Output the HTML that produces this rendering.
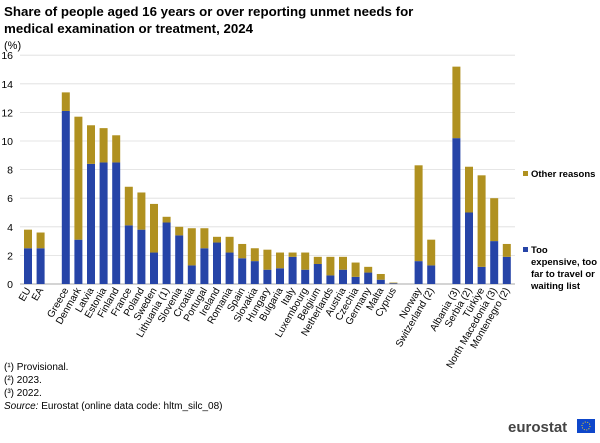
<!DOCTYPE html>
<html><head><meta charset="utf-8"><style>
body{margin:0;background:#fff;font-family:"Liberation Sans",sans-serif;}
</style></head><body>
<svg width="600" height="438" xmlns="http://www.w3.org/2000/svg" font-family="Liberation Sans, sans-serif">
<text x="4" y="16" font-size="13.3" font-weight="bold" fill="#000">Share of people aged 16 years or over reporting unmet needs for</text>
<text x="4" y="33" font-size="13.3" font-weight="bold" fill="#000">medical examination or treatment, 2024</text>
<text x="4" y="49" font-size="11">(%)</text>
<g id="grid"></g><g id="bars"></g><g id="xl"></g>
<g font-size="9.5" font-weight="bold">
<rect x="523" y="171" width="5" height="5" fill="#b09120"/>
<text x="531" y="177">Other reasons</text>
<rect x="523" y="247" width="5" height="5" fill="#2644a7"/>
<text><tspan x="531" y="253">Too</tspan><tspan x="531" y="265">expensive, too</tspan><tspan x="531" y="277">far to travel or</tspan><tspan x="531" y="289">waiting list</tspan></text>
</g>
<g font-size="10" fill="#000">
<text x="4" y="370">(¹) Provisional.</text>
<text x="4" y="383">(²) 2023.</text>
<text x="4" y="396">(³) 2022.</text>
<text x="4" y="409"><tspan font-style="italic">Source:</tspan> Eurostat (online data code: hltm_silc_08)</text>
</g>
<g>
<text x="508" y="432" font-size="15" font-weight="bold" fill="#444">eurostat</text>
<rect x="577" y="419" width="18" height="14" fill="#0e47cb"/>
<circle cx="586" cy="426" r="4" fill="none" stroke="#ffd617" stroke-width="1" stroke-dasharray="1 1.5"/>
</g>
</svg>
<script>
const categories=["EU","EA","","Greece","Denmark","Latvia","Estonia","Finland","France","Poland","Sweden","Lithuania (1)","Slovenia","Croatia","Portugal","Ireland","Romania","Spain","Slovakia","Hungary","Bulgaria","Italy","Luxembourg","Belgium","Netherlands","Austria","Czechia","Germany","Malta","Cyprus","","Norway","Switzerland (2)","","Albania (3)","Serbia (2)","Türkiye","North Macedonia (3)","Montenegro (2)"];
const expensive=[2.5,2.5,null,12.1,3.1,8.4,8.5,8.5,4.1,3.8,2.2,4.3,3.4,1.3,2.5,2.9,2.2,1.8,1.6,1.0,1.1,1.9,1.0,1.4,0.6,1.0,0.5,0.8,0.3,0.05,null,1.6,1.3,null,10.2,5.0,1.2,3.0,1.9];
const other=[1.3,1.1,null,1.3,8.6,2.7,2.4,1.9,2.7,2.6,3.4,0.4,0.6,2.6,1.4,0.4,1.1,1.0,0.9,1.4,1.1,0.3,1.2,0.5,1.3,0.9,1.0,0.4,0.4,0.05,null,6.7,1.8,null,5.0,3.2,6.4,3.0,0.9];
const yTicks=[0,2,4,6,8,10,12,14,16];
const NS="http://www.w3.org/2000/svg";
const y=v=>284-v*14.3, x=i=>28+i*12.6, bw=8;
const grid=document.getElementById('grid'),bars=document.getElementById('bars'),xl=document.getElementById('xl');
yTicks.forEach(t=>{
 const l=document.createElementNS(NS,'line');
 
 
 l.setAttribute('x1',20);l.setAttribute('x2',515);l.setAttribute('y1',y(t));l.setAttribute('y2',y(t));
 l.setAttribute('stroke',t===0?'#aaa':'#ddd');l.setAttribute('stroke-width',t===0?1:0.8);grid.appendChild(l);
 const tx=document.createElementNS(NS,'text');
 
 
 tx.setAttribute('x',13);tx.setAttribute('y',y(t)+4);tx.setAttribute('text-anchor','end');tx.setAttribute('font-size','10.5');tx.textContent=t;grid.appendChild(tx);
});
categories.forEach((c,i)=>{
 if(!c)return;
 const e=expensive[i],o=other[i];
 const r1=document.createElementNS(NS,'rect');
 
 
 r1.setAttribute('x',x(i)-bw/2);r1.setAttribute('width',bw);r1.setAttribute('y',y(e));r1.setAttribute('height',y(0)-y(e));r1.setAttribute('fill','#2644a7');bars.appendChild(r1);
 const r2=document.createElementNS(NS,'rect');
 
 
 r2.setAttribute('x',x(i)-bw/2);r2.setAttribute('width',bw);r2.setAttribute('y',y(e+o));r2.setAttribute('height',y(e)-y(e+o));r2.setAttribute('fill','#b09120');bars.appendChild(r2);
 const t=document.createElementNS(NS,'text');
 
 
 t.setAttribute('font-size','10');t.setAttribute('text-anchor','end');
 t.setAttribute('transform',`translate(${x(i)+3},${290}) rotate(-60)`);t.textContent=c;xl.appendChild(t);
});
</script>
</body></html>
